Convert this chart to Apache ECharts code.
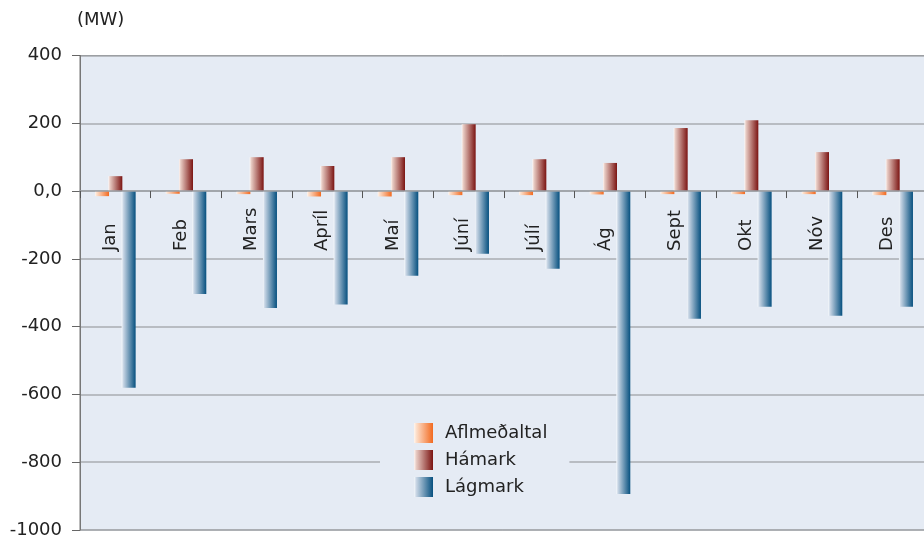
<!DOCTYPE html>
<html>
<head>
<meta charset="utf-8">
<script src="https://cdn.jsdelivr.net/npm/echarts@6/dist/echarts.min.js"></script>
<style>
html,body{margin:0;padding:0;background:#fff;}
#chart{width:924px;height:542px;}
</style>
</head>
<body>
<div id="chart"></div>
<script>
const categories = ['Jan','Feb','Mars','Apríl','Maí','Júní','Júlí','Ág','Sept','Okt','Nóv','Des'];
const avgValues = [-15, -8, -9, -16, -16, -12, -12, -10, -9, -9, -9, -12];
const maxValues = [44, 94, 100, 74, 100, 197, 94, 83, 186, 209, 115, 94];
const minValues = [-580, -304, -345, -335, -250, -185, -229, -894, -377, -341, -368, -341];
const seriesNames = ['Aflmeðaltal', 'Hámark', 'Lágmark'];
const yTicks = {min: -1000, max: 400, interval: 200};
const unitLabel = '(MW)';

const FONT = 'DejaVu Sans';
function grad(stops){
  return new echarts.graphic.LinearGradient(0,0,1,0, stops.map((c,i)=>({offset:c[0], color:c[1]})));
}
const orangeG = grad([[0,'#fff6ef'],[0.12,'#fde0cc'],[1,'#f26a20']]);
const redG = grad([[0,'#fdf6f4'],[0.12,'#e8cbc3'],[1,'#7b1412']]);
const blueG = grad([[0,'#f6f9fc'],[0.12,'#c9d6e5'],[1,'#06507f']]);

const chart = echarts.init(document.getElementById('chart'));
chart.setOption({
  animation: false,
  backgroundColor: '#ffffff',
  textStyle: {fontFamily: FONT},
  title: {
    text: unitLabel, left: 72, top: 6,
    textStyle: {fontFamily: FONT, fontSize: 18, fontWeight: 'normal', color: '#222'}
  },
  grid: {
    left: 80, top: 55.5, width: 848, height: 474.5,
    show: true, backgroundColor: '#e5ebf4', borderColor: '#777', borderWidth: 1,
    containLabel: false,
    outerBoundsMode: 'none'
  },
  legend: {
    orient: 'vertical',
    left: 380, top: 411,
    data: seriesNames,
    icon: 'rect',
    itemWidth: 19, itemHeight: 20, itemGap: 7,
    padding: [12, 22, 10, 34],
    backgroundColor: '#e5ebf4',
    textStyle: {fontFamily: FONT, fontSize: 18, color: '#222', padding: [0,0,0,7]}
  },
  xAxis: {
    type: 'category',
    data: categories,
    z: 5,
    axisLine: {onZero: true, lineStyle: {color: '#9a9ea4', width: 1.5}},
    axisTick: {show: true, length: 7, lineStyle: {color: '#555'}},
    axisLabel: {
      rotate: 90, align: 'left', verticalAlign: 'bottom', lineHeight: 10, margin: -279,
      fontFamily: FONT, fontSize: 18, color: '#222'
    },
    splitLine: {show: false}
  },
  yAxis: {
    type: 'value',
    min: yTicks.min, max: yTicks.max, interval: yTicks.interval,
    axisLine: {show: true, lineStyle: {color: '#777'}},
    axisTick: {show: true, length: 8, lineStyle: {color: '#666'}},
    axisLabel: {
      margin: 18, fontFamily: FONT, fontSize: 18, color: '#222',
      formatter: v => v === 0 ? '0,0' : String(v)
    },
    splitLine: {lineStyle: {color: '#a8acb2', width: 1.5}}
  },
  series: [
    {name: seriesNames[0], type: 'bar', data: avgValues, barWidth: 14, barGap: '-5%', itemStyle: {color: orangeG}},
    {name: seriesNames[1], type: 'bar', data: maxValues, barWidth: 14, barGap: '-5%', itemStyle: {color: redG}},
    {name: seriesNames[2], type: 'bar', data: minValues, barWidth: 14, barGap: '-5%', itemStyle: {color: blueG}}
  ]
});
</script>
</body>
</html>
